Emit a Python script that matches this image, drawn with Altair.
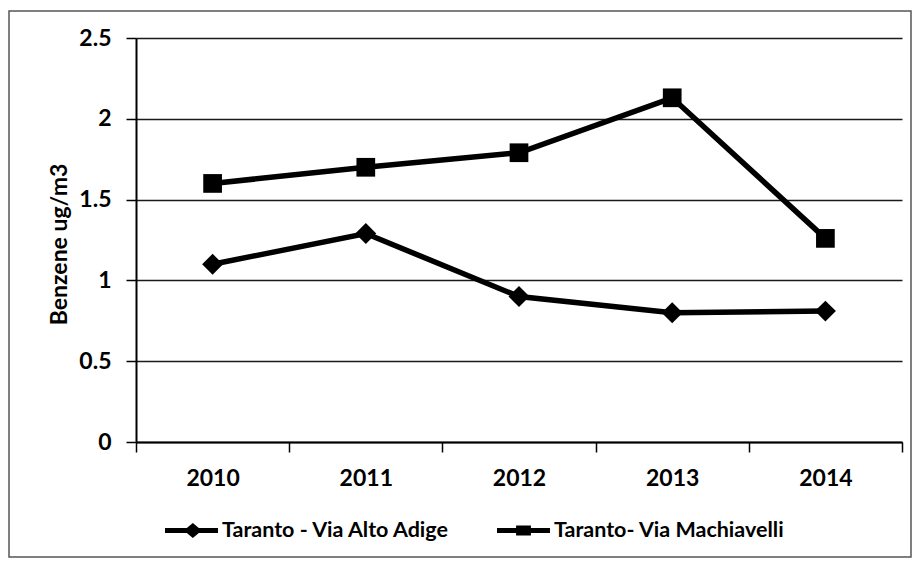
import altair as alt
import pandas as pd

years = ["2010", "2011", "2012", "2013", "2014"]
alto_adige = [1.10, 1.29, 0.90, 0.80, 0.81]
machiavelli = [1.60, 1.70, 1.79, 2.13, 1.26]
series_names = ["Taranto - Via Alto Adige", "Taranto- Via Machiavelli"]
y_ticks = [0, 0.5, 1, 1.5, 2, 2.5]

rows = []
for name, vals in zip(series_names, [alto_adige, machiavelli]):
    for yr, v in zip(years, vals):
        rows.append({"year": yr, "value": v, "series": name})
df = pd.DataFrame(rows)

FONT = "Lato"

# marker shapes (unit paths)
diamond = "M0,-1.12L1.12,0L0,1.12L-1.12,0Z"
# legend symbol paths: line with marker
leg_diamond = ("M-1,-0.09L1,-0.09L1,0.09L-1,0.09Z "
               "M0.05,-0.28L0.39,0L0.05,0.28L-0.29,0Z")
leg_square = ("M-1,-0.09L1,-0.09L1,0.09L-1,0.09Z "
              "M-0.28,-0.19L0.28,-0.19L0.28,0.19L-0.28,0.19Z")

x_enc = alt.X("year:O", sort=years,
              scale=alt.Scale(type="band", paddingInner=0, paddingOuter=0),
              axis=alt.Axis(title=None, tickBand="extent", labelAngle=0,
                            labelFont=FONT, labelFontSize=23, labelFontWeight="bold",
                            labelColor="black", labelPadding=15,
                            domainColor="black", domainWidth=2,
                            tickColor="black", tickWidth=1.5, tickSize=10,
                            grid=False))
y_enc = alt.Y("value:Q",
              scale=alt.Scale(domain=[0, 2.5], nice=False),
              axis=alt.Axis(values=y_ticks, format="~g",
                            title="Benzene ug/m3", titleFont=FONT, titleFontSize=23,
                            titleFontWeight="bold", titleColor="black",
                            titleX=-77, titleY=206, titleAngle=270,
                            titleAlign="center", titleBaseline="middle",
                            labelFont=FONT, labelFontSize=23, labelFontWeight="bold",
                            labelColor="black", labelPadding=15,
                            domainColor="black", domainWidth=2,
                            tickColor="black", tickWidth=1.5, tickSize=10,
                            grid=True, gridColor="#1a1a1a", gridWidth=1.6))

base = alt.Chart(df)

frame = alt.Chart(pd.DataFrame({"a": [0]})).mark_rect(
    fill=None, stroke="#555555", strokeWidth=1.5
).encode(
    x=alt.value(-127), x2=alt.value(775), y=alt.value(-27), y2=alt.value(519)
)

lines = base.mark_line(color="black", strokeWidth=5.5).encode(
    x=x_enc, y=y_enc, detail="series:N"
)

points = base.mark_point(filled=True, color="black", size=350, opacity=1,
                         strokeWidth=0).encode(
    x=alt.X("year:O", sort=years), y="value:Q",
    shape=alt.Shape("series:N",
                    scale=alt.Scale(domain=series_names, range=[diamond, "square"]),
                    legend=None),
)

legend_layer = base.mark_point(filled=True, color="black", opacity=0).encode(
    x=alt.X("year:O", sort=years), y="value:Q",
    shape=alt.Shape("series:N",
                    scale=alt.Scale(domain=series_names, range=[leg_diamond, leg_square]),
                    legend=alt.Legend(title=None, orient="none", direction="horizontal",
                                      legendX=29, legendY=466, padding=0,
                                      symbolSize=2809, symbolOpacity=1,
                                      symbolFillColor="black", symbolStrokeWidth=0,
                                      labelFont=FONT, labelFontSize=21.5, labelLimit=500,
                                      labelFontWeight="bold", labelColor="black",
                                      labelOffset=4, columnPadding=46)),
)

chart = alt.layer(frame, lines, points, legend_layer).resolve_scale(
    shape="independent"
).properties(
    width=766, height=404,
    autosize=alt.AutoSizeParams(type="none"),
    padding={"left": 128, "top": 30, "right": 10, "bottom": 118},
    background="white",
).configure_view(stroke=None)

chart.save("out.html", embed_options={"renderer": "svg", "actions": False})
